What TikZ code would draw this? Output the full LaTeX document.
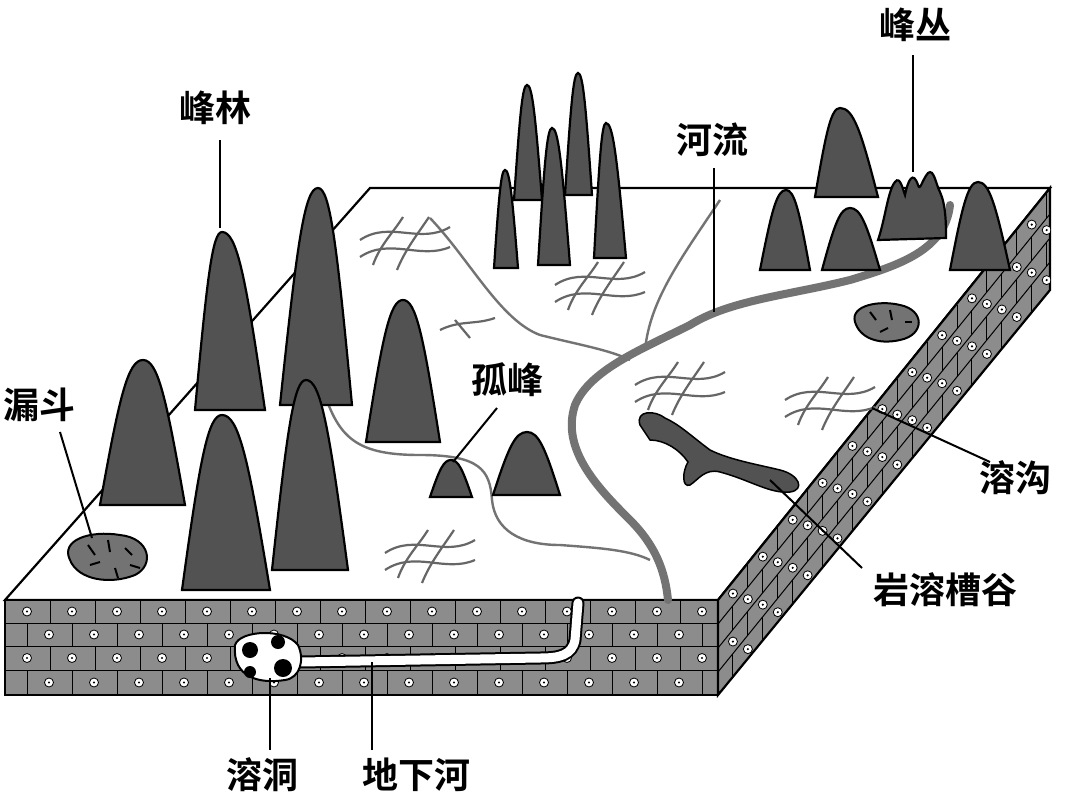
\documentclass[tikz,border=0pt]{standalone}
\usepackage{fontspec}
\newfontfamily\cjk{Noto Sans CJK SC Bold}
\begin{document}
\begin{tikzpicture}[x=1pt,y=-1pt,
  peakc/.style={fill=black!68,draw=black,line width=2.2},
  lab/.style={font=\cjk\fontsize{36}{36}\selectfont,inner sep=0},
  leader/.style={draw=black,line width=2},
  crack/.style={draw=black!60,line width=2.2},
  river/.style={draw=black!55,line width=8,line cap=round},
  trib/.style={draw=black!55,line width=2.4}]
\useasboundingbox (0,0) rectangle (1080,811);
\newcommand\pk[5]{\path[peakc] (#1,#3) .. controls ({#1+(#4-#1)*0.45},{#3-(#3-#5)*0.75}) and ({#4-(#4-#1)*0.35},#5) .. (#4,#5) .. controls ({#4+(#2-#4)*0.35},#5) and ({#2-(#2-#4)*0.45},{#3-(#3-#5)*0.75}) .. (#2,#3) -- cycle;}
% top surface
\draw[line width=2.2,fill=white] (5,600) -- (718,600) -- (1050,188) -- (370,188) -- cycle;
% front face
\path[fill=black!45,draw=black,line width=2.2] (5,600) rectangle (718,695);
\begin{scope}
\clip (5,600) rectangle (718,695);
\foreach \ya/\yb/\o in {600/623/0,623/646/22,646/670/0,670/695/22}{
  \draw[black,line width=1] (5,\yb) -- (718,\yb);
  \foreach \i in {0,...,16}{
    \draw[black,line width=1] ({5+\o+45*\i},\ya) -- ({5+\o+45*\i},\yb);
    \fill[white] ({27+\o+45*\i},{(\ya+\yb)/2}) circle (4.5);
    \draw[black,line width=0.8] ({27+\o+45*\i},{(\ya+\yb)/2}) circle (4.5);
    \fill[black] ({27+\o+45*\i},{(\ya+\yb)/2}) circle (1.2);
  }}
\end{scope}
% right face
\path[fill=black!45,draw=black,line width=2.2] (718,600) -- (1050,188) -- (1050,290) -- (718,695) -- cycle;
\begin{scope}
\clip (718,600) -- (1050,188) -- (1050,290) -- (718,695) -- cycle;
\foreach \va/\vb/\o in {0/24/0,24/48/0.045,48/72/0,72/100/0.045}{
  \draw[black,line width=1] ({718},{600+\vb}) -- (1050,{190+\vb});
  \foreach \i in {0,...,11}{
    \pgfmathsetmacro\s{\o+0.09*\i}
    \draw[black,line width=1] ({718+332*\s},{600-410*\s+\va}) -- ({718+332*\s},{600-410*\s+\vb});
    \pgfmathsetmacro\t{\s+0.045}
    \fill[white] ({718+332*\t},{600-410*\t+(\va+\vb)/2}) circle (4.5);
    \draw[black,line width=0.8] ({718+332*\t},{600-410*\t+(\va+\vb)/2}) circle (4.5);
    \fill[black] ({718+332*\t},{600-410*\t+(\va+\vb)/2}) circle (1.2);
  }}
\end{scope}
\draw[line width=2.2] (718,600) -- (718,695);
% underground river and cave
\draw[black,line width=13,line cap=round] (578,603) -- (575,640) .. controls (572,655) and (560,658) .. (540,658) -- (300,662);
\draw[white,line width=9,line cap=round] (578,603) -- (575,640) .. controls (572,655) and (560,658) .. (540,658) -- (300,662);
\path[fill=white,draw=black,line width=2] (235,645) .. controls (240,630) and (285,628) .. (298,645) .. controls (305,660) and (300,678) .. (285,680) .. controls (260,684) and (232,678) .. (235,645) -- cycle;
\fill[black] (250,650) circle (8);
\fill[black] (278,642) circle (7);
\fill[black] (283,668) circle (9);
\fill[black] (250,672) circle (6);
% tributaries
\draw[trib] (720,200) .. controls (680,260) and (650,300) .. (645,350);
\draw[trib] (430,218) .. controls (470,260) and (500,320) .. (540,335) .. controls (580,345) and (610,350) .. (630,360);
\draw[trib] (325,395) .. controls (340,440) and (360,455) .. (420,455) .. controls (480,455) and (490,470) .. (492,500) .. controls (495,530) and (520,545) .. (560,545) .. controls (600,548) and (630,550) .. (650,560);
% main river
\draw[river] (950,205) .. controls (945,250) and (900,265) .. (850,280) .. controls (790,295) and (730,300) .. (690,325) .. controls (640,350) and (590,370) .. (575,405) .. controls (560,450) and (600,490) .. (630,520) .. controls (655,545) and (665,570) .. (668,600);
% cracks
\newcommand\crk[1]{\begin{scope}[shift={#1}]
\draw[crack] (-45,-5) .. controls (-15,-25) and (15,0) .. (45,-18);
\draw[crack] (-45,12) .. controls (-15,-8) and (15,15) .. (45,2);
\draw[crack] (-32,20) .. controls (-25,0) and (-12,-12) .. (-2,-28);
\draw[crack] (-8,25) .. controls (0,5) and (12,-10) .. (24,-28);
\end{scope}}
\crk{(405,245)}
\crk{(600,290)}
\crk{(680,390)}
\crk{(830,405)}
\crk{(430,558)}
\draw[crack] (440,330) .. controls (460,320) and (475,325) .. (495,318);
\draw[crack] (455,320) -- (470,338);
% sinkholes
\path[fill=black!55,draw=black,line width=2] (70,560) .. controls (60,540) and (90,530) .. (120,535) .. controls (150,538) and (155,565) .. (135,575) .. controls (110,585) and (78,580) .. (70,560) -- cycle;
\foreach \a/\b/\c/\d in {88/545/95/555, 108/540/110/552, 125/548/132/555, 90/565/100/562, 115/568/118/578, 130/565/140/568}
  \draw[black,line width=2] (\a,\b) -- (\c,\d);
\path[fill=black!55,draw=black,line width=2] (855,322) .. controls (850,305) and (880,300) .. (900,305) .. controls (925,310) and (925,335) .. (900,340) .. controls (878,345) and (860,338) .. (855,322) -- cycle;
\foreach \a/\b/\c/\d in {870/312/876/320, 890/310/892/320, 905/322/912/322, 880/332/888/328}
  \draw[black,line width=2] (\a,\b) -- (\c,\d);
% karst valley
\path[fill=black!68,draw=black,line width=1.5] (640,425) .. controls (635,410) and (655,410) .. (665,418) .. controls (680,425) and (690,435) .. (710,450) .. controls (730,460) and (760,465) .. (780,470) .. controls (800,475) and (805,490) .. (790,492) .. controls (770,494) and (750,480) .. (720,472) .. controls (705,468) and (698,480) .. (690,485) .. controls (682,488) and (682,472) .. (688,462) .. controls (680,450) and (665,440) .. (650,440) -- cycle;
% peaks
\pk{195}{265}{410}{222}{232}
\pk{280}{352}{405}{318}{188}
\pk{100}{185}{505}{143}{360}
\pk{182}{270}{590}{222}{415}
\pk{272}{348}{570}{306}{380}
\pk{366}{440}{442}{403}{300}
\pk{430}{472}{497}{451}{460}
\pk{493}{560}{495}{527}{432}
\pk{494}{518}{268}{505}{170}
\pk{514}{542}{200}{527}{85}
\pk{538}{570}{265}{552}{128}
\pk{565}{592}{195}{578}{73}
\pk{594}{626}{258}{606}{123}
\pk{815}{878}{197}{840}{108}
\pk{760}{810}{270}{786}{190}
\pk{822}{880}{270}{850}{208}
\pk{950}{1010}{270}{978}{182}
\path[peakc] (878,240) .. controls (885,220) and (888,190) .. (895,182) .. controls (900,175) and (903,190) .. (905,195) .. controls (908,180) and (913,170) .. (918,185) .. controls (920,192) and (922,180) .. (928,173) .. controls (934,168) and (936,185) .. (940,192) .. controls (946,205) and (946,225) .. (946,238) -- cycle;
% labels
\node[lab] (fl) at (215,108) {峰林};
\draw[leader] (220,140) -- (220,228);
\node[lab] (gf) at (507,380) {孤峰};
\draw[leader] (497,408) -- (453,462);
\node[lab] (ld) at (40,405) {漏斗};
\draw[leader] (60,432) -- (92,538);
\node[lab] (fc) at (915,25) {峰丛};
\draw[leader] (913,55) -- (913,172);
\node[lab] (hl) at (712,140) {河流};
\draw[leader] (714,168) -- (714,312);
\node[lab] (rg) at (1015,478) {溶沟};
\draw[leader] (990,462) -- (872,408);
\node[lab] (yc) at (945,590) {岩溶槽谷};
\draw[leader] (862,568) -- (770,480);
\node[lab] (rd) at (262,775) {溶洞};
\draw[leader] (270,678) -- (270,750);
\node[lab] (dx) at (416,775) {地下河};
\draw[leader] (372,662) -- (372,750);
\end{tikzpicture}
\end{document}
